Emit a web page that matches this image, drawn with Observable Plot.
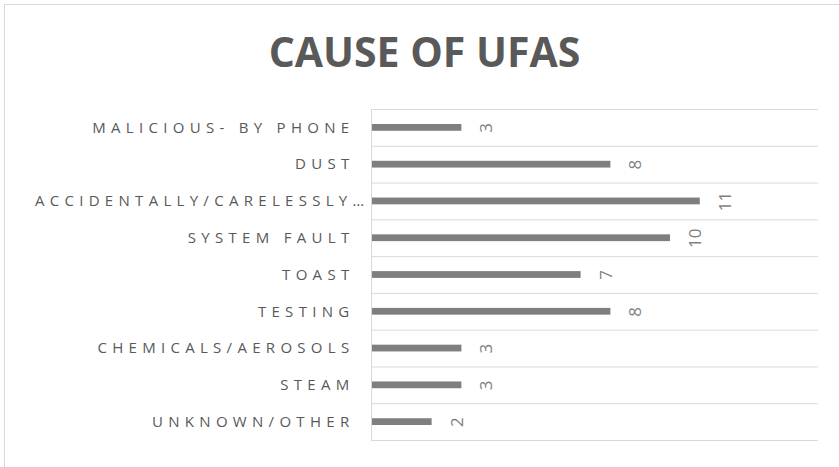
<!DOCTYPE html>
<html>
<head>
<meta charset="utf-8">
<script src="https://cdn.jsdelivr.net/npm/d3@7"></script>
<script src="https://cdn.jsdelivr.net/npm/@observablehq/plot@0.6"></script>
<style>
  html, body { margin: 0; padding: 0; background: #fff; overflow: hidden; width: 839px; height: 467px; }
  #frame { position: absolute; left: 4px; top: 4px; width: 860px; height: 490px; border: 1px solid #d9d9d9; box-sizing: border-box; z-index: 2; pointer-events: none; }
  #chart { position: absolute; left: 0; top: 0; width: 839px; z-index: 1; }
  #title { height: 92px; box-sizing: border-box; padding-top: 31px; text-align: center; font-family: "Open Sans", sans-serif; font-weight: 700; font-size: 41px; line-height: 40px; color: #595959; padding-left: 10px; }
  #plot svg { display: block; }
  svg [aria-label="y-axis tick label"] text { letter-spacing: 5.3px; }
</style>
</head>
<body>
<div id="chart">
  <div id="title">CAUSE OF UFAS</div>
  <div id="plot"></div>
</div>
<div id="frame"></div>
<script>
const causes = [
  "MALICIOUS- BY PHONE",
  "DUST",
  "ACCIDENTALLY/CARELESSLY…",
  "SYSTEM FAULT",
  "TOAST",
  "TESTING",
  "CHEMICALS/AEROSOLS",
  "STEAM",
  "UNKNOWN/OTHER"
];
const counts = [3, 8, 11, 10, 7, 8, 3, 3, 2];
const xDomain = [0, 15];

const data = causes.map((c, i) => ({cause: c, count: counts[i]}));
const truncated = causes.filter(c => c.endsWith("…"));
const normal = causes.filter(c => !c.endsWith("…"));

const width = 839, height = 375;
const marginTop = 17, marginBottom = 27, marginLeft = 371, marginRight = 21;
const step = (height - marginTop - marginBottom) / causes.length;

const chart = Plot.plot({
  width, height, marginTop, marginBottom, marginLeft, marginRight,
  style: {fontFamily: "'Open Sans', sans-serif", background: "transparent"},
  x: {domain: xDomain, axis: null},
  y: {domain: causes, padding: 0, round: false, axis: null},
  marks: [
    Plot.ruleY(causes, {y: d => d, dy: -step / 2, x1: xDomain[0], x2: xDomain[1], stroke: "#d9d9d9", strokeWidth: 1}),
    Plot.ruleY(causes.slice(-1), {y: d => d, dy: step / 2, x1: xDomain[0], x2: xDomain[1], stroke: "#d9d9d9", strokeWidth: 1}),
    Plot.ruleX([0], {stroke: "#d9d9d9", strokeWidth: 1}),
    Plot.barX(data, {x: "count", y: "cause", fill: "#7f7f7f", insetTop: 15, insetBottom: 15, dx: 1}),
    Plot.text(data, {x: "count", y: "cause", text: d => String(d.count), rotate: -90, dx: 26, fontSize: 17, fill: "#7f7f7f", fontFamily: "'Open Sans', sans-serif", textAnchor: "middle", lineAnchor: "middle"}),
    Plot.axisY(normal, {anchor: "left", tickSize: 0, tickPadding: 17, fontSize: 15, fill: "#595959", label: null}),
    Plot.axisY(truncated, {anchor: "left", tickSize: 0, tickPadding: 2, fontSize: 15, fill: "#595959", label: null})
  ]
});
document.getElementById("plot").appendChild(chart);
</script>
</body>
</html>
